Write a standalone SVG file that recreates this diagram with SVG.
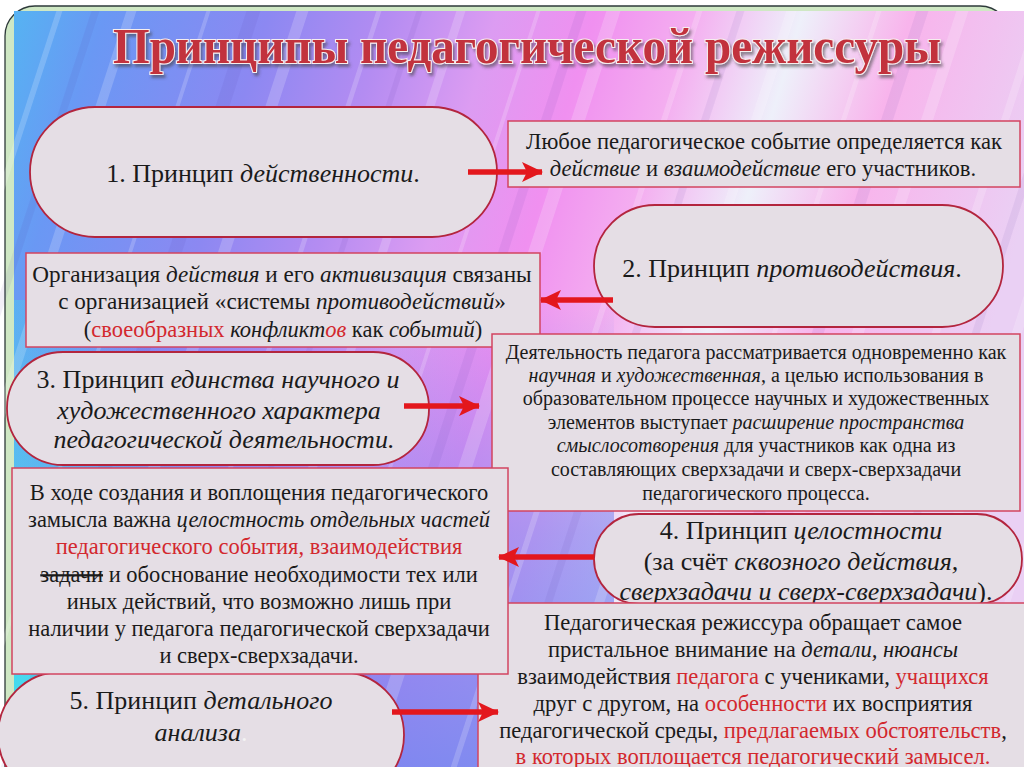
<svg xmlns="http://www.w3.org/2000/svg" width="1024" height="767" viewBox="0 0 1024 767">
<defs>
<linearGradient id="bg" gradientUnits="userSpaceOnUse" x1="0" y1="0" x2="1000" y2="300">
<stop offset="0" stop-color="#52b8f2"/>
<stop offset="0.1" stop-color="#6a98f4"/>
<stop offset="0.25" stop-color="#8c88f2"/>
<stop offset="0.36" stop-color="#b48cf2"/>
<stop offset="0.46" stop-color="#dc9cf2"/>
<stop offset="0.55" stop-color="#f090f0"/>
<stop offset="0.64" stop-color="#f4aef0"/>
<stop offset="0.74" stop-color="#eef0fa"/>
<stop offset="0.84" stop-color="#f8b4ec"/>
<stop offset="1" stop-color="#ead0f4"/>
</linearGradient>
<linearGradient id="cy" gradientUnits="userSpaceOnUse" x1="0" y1="700" x2="260" y2="560">
<stop offset="0" stop-color="#3ee6ee" stop-opacity="0.95"/>
<stop offset="1" stop-color="#3ee6ee" stop-opacity="0"/>
</linearGradient>
<linearGradient id="bl" gradientUnits="userSpaceOnUse" x1="0" y1="300" x2="0" y2="767">
<stop offset="0" stop-color="#6c7cf0" stop-opacity="0"/>
<stop offset="0.5" stop-color="#7c84f0" stop-opacity="0.6"/>
<stop offset="1" stop-color="#6c84f0" stop-opacity="0.85"/>
</linearGradient>
<filter id="sh" x="-5%" y="-20%" width="110%" height="150%">
<feDropShadow dx="2" dy="3" stdDeviation="1.5" flood-color="#404040" flood-opacity="0.55"/>
</filter>
<marker id="ah" markerUnits="userSpaceOnUse" markerWidth="22" markerHeight="20" refX="20" refY="10" orient="auto">
<path d="M0,0 L21,10 L0,20 L5,10 Z" fill="#e3171d"/>
</marker>
<style>
.t{fill:#1a1a1a;text-anchor:middle}
.i{font-style:italic}
.r{fill:#d3282e}
.w{fill:#f4f4f4}
.box{fill:#e5dee5;stroke:#d24460;stroke-width:1.5}
.pill{fill:#e5dee5;stroke:#b3253e;stroke-width:1.8}
.arrow{stroke:#e3171d;stroke-width:5.5;fill:none;marker-end:url(#ah)}
.n{font-size:26px}
.b1{font-size:22.6px}
.b2{font-size:23.2px}
.b2s{font-size:22.5px}
.s{font-size:20px}
.b4{font-size:22.5px}
.b5{font-size:22.6px}
</style>
</defs>

<!-- background -->
<rect x="0" y="0" width="1024" height="767" fill="#ffffff"/>
<rect x="5" y="6" width="1005" height="800" rx="30" fill="#cfe8c4" stroke="#2e3a3a" stroke-width="1.3"/>
<rect x="14" y="11" width="1010" height="756" fill="url(#bg)"/>
<rect x="14" y="300" width="600" height="467" fill="url(#bl)"/>
<rect x="14" y="300" width="400" height="467" fill="url(#cy)"/>
<g fill="#ffffff" opacity="0.18" transform="skewX(-18)">
<rect x="60" y="11" width="6" height="756"/>
<rect x="130" y="11" width="10" height="756"/>
<rect x="210" y="11" width="4" height="756"/>
<rect x="300" y="11" width="12" height="756"/>
<rect x="380" y="11" width="5" height="756"/>
<rect x="460" y="11" width="9" height="756"/>
<rect x="540" y="11" width="4" height="756"/>
<rect x="610" y="11" width="14" height="756"/>
<rect x="700" y="11" width="6" height="756"/>
<rect x="790" y="11" width="10" height="756"/>
<rect x="880" y="11" width="5" height="756"/>
<rect x="960" y="11" width="12" height="756"/>
<rect x="1040" y="11" width="8" height="756"/>
<rect x="1120" y="11" width="10" height="756"/>
<rect x="1200" y="11" width="6" height="756"/>
</g>
<g fill="#5030a0" opacity="0.07" transform="skewX(-18)">
<rect x="95" y="11" width="8" height="756"/>
<rect x="250" y="11" width="14" height="756"/>
<rect x="420" y="11" width="6" height="756"/>
<rect x="580" y="11" width="10" height="756"/>
<rect x="740" y="11" width="8" height="756"/>
<rect x="920" y="11" width="12" height="756"/>
<rect x="1080" y="11" width="8" height="756"/>
</g>

<!-- title -->
<text id="title" x="113" y="63" textLength="828" lengthAdjust="spacingAndGlyphs" font-family="'Liberation Serif','Times New Roman',serif" font-weight="bold" font-size="50" fill="#c2323e" stroke="#f6eeee" stroke-width="2.2" paint-order="stroke" filter="url(#sh)">Принципы педагогической режиссуры</text>

<g font-family="'Liberation Serif','Times New Roman',serif">
<g id="node1">
<rect class="pill" x="30" y="107" width="467" height="130" rx="65"/>
<text class="t n" x="263" y="182">1. Принцип <tspan class="i">действенности</tspan>.</text>
</g>

<g id="box1">
<rect class="box" x="508" y="121" width="512" height="66"/>
<text class="t b1" x="764" y="149">Любое педагогическое событие определяется как</text>
<text class="t b1" x="763" y="176"><tspan class="i">действие</tspan> и <tspan class="i">взаимодействие</tspan> его участников.</text>
</g>

<g id="node2">
<rect class="pill" x="594" y="205" width="409" height="122" rx="61"/>
<text class="t n" x="792" y="277">2. Принцип <tspan class="i">противодействия</tspan>.</text>
</g>

<g id="box2">
<rect class="box" x="26" y="253" width="514" height="94"/>
<text class="t b2" x="282" y="282">Организация <tspan class="i">действия</tspan> и его <tspan class="i">активизация</tspan> связаны</text>
<text class="t b2" x="282" y="309">с организацией «системы <tspan class="i">противодействий</tspan>»</text>
<text class="t b2s" x="283" y="337">(<tspan class="r">своеобразных</tspan> <tspan class="i">конфликт</tspan><tspan class="i r">ов</tspan> как <tspan class="i">событий</tspan>)</text>
</g>

<g id="node3">
<rect class="pill" x="7" y="352" width="422" height="113" rx="56"/>
<text class="t n" x="218" y="388">3. Принцип <tspan class="i">единства научного и</tspan></text>
<text class="t n i" x="219" y="419">художественного характера</text>
<text class="t n i" x="224" y="448">педагогической деятельности.</text>
</g>

<g id="box3">
<rect class="box" x="492" y="334" width="528" height="177"/>
<text class="t s" x="756" y="359">Деятельность педагога рассматривается одновременно как</text>
<text class="t s" x="756" y="382"><tspan class="i">научная</tspan> и <tspan class="i">художественная</tspan>, а целью использования в</text>
<text class="t s" x="756" y="405">образовательном процессе научных и художественных</text>
<text class="t s" x="756" y="429">элементов выступает <tspan class="i">расширение пространства</tspan></text>
<text class="t s" x="756" y="452"><tspan class="i">смыслосотворения</tspan> для участников как одна из</text>
<text class="t s" x="756" y="476">составляющих сверхзадачи и сверх-сверхзадачи</text>
<text class="t s" x="756" y="500">педагогического процесса.</text>
</g>

<g id="node4">
<rect class="pill" x="594" y="514" width="428" height="90" rx="45"/>
<text class="t n" x="801" y="539">4. Принцип <tspan class="i">целостности</tspan></text>
<text class="t n" x="801" y="570">(за счёт <tspan class="i">сквозного действия,</tspan></text>
<text class="t n" x="806" y="600"><tspan class="i">сверхзадачи и сверх-сверхзадачи</tspan>).</text>
</g>

<g id="node5">
<rect class="pill" x="-2" y="672" width="406" height="126" rx="63"/>
<text class="t n" x="201" y="709">5. Принцип <tspan class="i">детального</tspan></text>
<text class="t n" x="201" y="741"><tspan class="i">анализа</tspan><tspan class="w">.</tspan></text>
</g>

<g id="box5">
<rect class="box" x="478" y="603" width="560" height="180"/>
<text class="t b5" x="753" y="630">Педагогическая режиссура обращает самое</text>
<text class="t b5" x="753" y="657">пристальное внимание на <tspan class="i">детали, нюансы</tspan></text>
<text class="t b5" x="753" y="684">взаимодействия <tspan class="r">педагога</tspan> с учениками, <tspan class="r">учащихся</tspan></text>
<text class="t b5" x="753" y="711">друг с другом, на <tspan class="r">особенности</tspan> их восприятия</text>
<text class="t b5" x="753" y="738">педагогической среды, <tspan class="r">предлагаемых обстоятельств</tspan>,</text>
<text class="t b5 r" x="753" y="764">в которых воплощается педагогический замысел.</text>
</g>

<g id="box4">
<rect class="box" x="12" y="468" width="496" height="206"/>
<text class="t b4" x="259" y="500">В ходе создания и воплощения педагогического</text>
<text class="t b4" x="259" y="527">замысла важна <tspan class="i">целостность отдельных частей</tspan></text>
<text class="t b4 r" x="259" y="554">педагогического события, взаимодействия</text>
<text class="t b4" x="259" y="582"><tspan text-decoration="line-through">задачи</tspan> и обоснование необходимости тех или</text>
<text class="t b4" x="259" y="609">иных действий, что возможно лишь при</text>
<text class="t b4" x="259" y="636">наличии у педагога педагогической сверхзадачи</text>
<text class="t b4" x="259" y="663">и сверх-сверхзадачи.</text>
</g>
</g>

<g id="connectors">
<path class="arrow" d="M468,172 L542,172"/>
<path class="arrow" d="M613,300 L541,300"/>
<path class="arrow" d="M404,406 L479,406"/>
<path class="arrow" d="M594,557 L499,557"/>
<path class="arrow" d="M392,712 L498,712"/>
</g>
</svg>
